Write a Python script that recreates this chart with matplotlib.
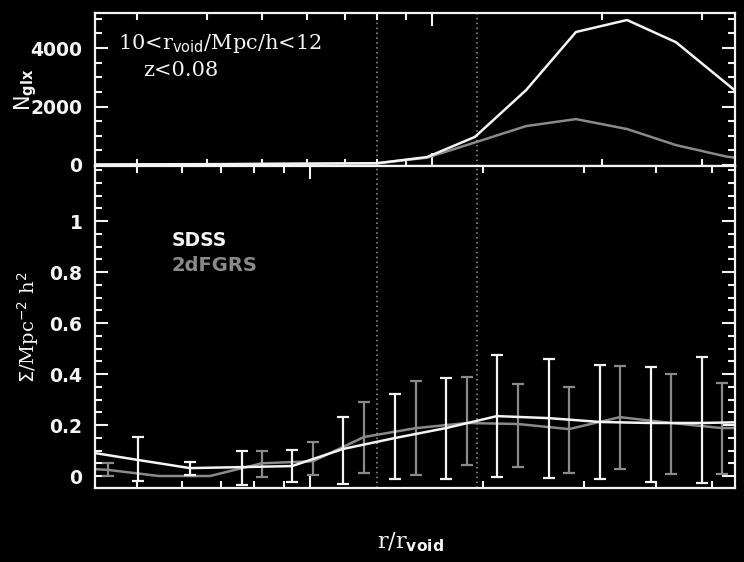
import numpy as np
import matplotlib
matplotlib.use("Agg")
import matplotlib.pyplot as plt
from matplotlib.ticker import MultipleLocator, FixedLocator, FuncFormatter, LogLocator, NullFormatter

# ---------------- data ----------------
# top panel: galaxy counts vs r (Mpc/h)
r_top = [2.34, 2.87, 3.52, 4.32, 5.30, 6.49, 7.99, 9.80, 11.91, 14.67, 17.98, 22.14, 27.03, 33.14, 40.6]
n_sdss = [15, 20, 25, 30, 40, 50, 60, 270, 960, 2560, 4550, 4960, 4200, 2800, 1400]
n_2df = [10, 15, 20, 25, 35, 45, 55, 250, 770, 1330, 1570, 1230, 680, 290, 60]

# bottom panel: surface density vs r/r_void
x_sdss = [0.4095, 0.5022, 0.6183, 0.7615, 0.9304, 1.141, 1.405, 1.724, 2.114, 2.604, 3.194, 3.918, 4.806, 5.893]
s_sdss = [0.095, 0.063, 0.031, 0.035, 0.039, 0.106, 0.149, 0.188, 0.235, 0.227, 0.212, 0.208, 0.208, 0.212]
s_sdss_hi = [0.25, 0.153, 0.055, 0.098, 0.102, 0.230, 0.320, 0.385, 0.475, 0.460, 0.435, 0.427, 0.465, 0.45]
s_sdss_lo = [-0.05, -0.020, 0.004, -0.035, -0.024, -0.030, -0.012, -0.012, -0.004, -0.008, -0.012, -0.024, -0.027, -0.03]

x_2df = [0.3631, 0.4453, 0.5462, 0.6700, 0.8250, 1.012, 1.241, 1.529, 1.875, 2.300, 2.821, 3.460, 4.245, 5.206, 6.386]
s_2df = [0.035, 0.024, 0.0, 0.0, 0.050, 0.058, 0.153, 0.188, 0.208, 0.204, 0.184, 0.231, 0.208, 0.188, 0.19]
s_2df_hi = [0.06, 0.050, np.nan, np.nan, 0.098, 0.135, 0.290, 0.373, 0.388, 0.360, 0.349, 0.431, 0.400, 0.365, 0.37]
s_2df_lo = [0.01, 0.000, np.nan, np.nan, -0.004, 0.004, 0.012, 0.004, 0.043, 0.035, 0.012, 0.027, 0.008, 0.008, 0.01]

void_marks_top = [7.99, 12.01]
void_marks_bot = [1.307, 1.951]

top_yticks = [0, 2000, 4000]
bot_yticks = [0, 0.2, 0.4, 0.6, 0.8, 1.0]

# ---------------- style ----------------
WHITE = "#f4f4f4"
GRAY = "#8a8a8a"
DOT = "#9a9a9a"
plt.rcParams["font.family"] = ["DejaVu Sans"]

fig = plt.figure(figsize=(7.44, 5.62), dpi=100, facecolor="black")
L, W = 95 / 744, 640 / 744
ax1 = fig.add_axes([L, 1 - 166 / 562, W, 153 / 562], facecolor="black")
ax2 = fig.add_axes([L, 1 - 488 / 562, W, 322 / 562], facecolor="black")


def style(ax):
    for s in ax.spines.values():
        s.set_color(WHITE)
        s.set_linewidth(1.6)
    ax.tick_params(which="both", direction="in", colors=WHITE, top=True, right=True,
                   labelsize=13.5, pad=9)
    ax.tick_params(which="major", length=9.5, width=1.5)
    ax.tick_params(which="minor", length=5, width=1.5)
    ax.tick_params(axis="x", labelbottom=False)
    for lab in ax.get_yticklabels():
        lab.set_fontweight("bold")


# ---- top panel ----
ax1.set_xscale("log")
ax1.plot(r_top, n_sdss, color=WHITE, lw=1.8, zorder=3)
ax1.plot(r_top, n_2df, color=GRAY, lw=1.8, zorder=2)
for v in void_marks_top:
    ax1.axvline(v, color=DOT, lw=1.1, ls=(0, (1, 2.2)), zorder=1)
ax1.set_xlim(2.532, 34.38)
ax1.set_ylim(-35, 5200)
ax1.yaxis.set_major_locator(FixedLocator(top_yticks))
ax1.yaxis.set_minor_locator(MultipleLocator(500))
ax1.xaxis.set_major_locator(LogLocator(base=10, numticks=10))
ax1.xaxis.set_minor_locator(LogLocator(base=10, subs=np.arange(2, 10), numticks=20))
ax1.xaxis.set_minor_formatter(NullFormatter())
ax1.yaxis.set_major_formatter(FuncFormatter(lambda v, p: f"{v:g}"))
style(ax1)
ax1.set_ylabel(r"N$_{\mathbf{glx}}$", color=WHITE, fontsize=15, labelpad=-6)
ax1.text(0.036, 0.80, r"10<r$_{\mathsf{void}}$/Mpc/h<12", color=WHITE, fontsize=15,
         family="DejaVu Serif", va="center", ha="left", transform=ax1.transAxes)
ax1.text(0.075, 0.625, "z<0.08", color=WHITE, fontsize=15, family="DejaVu Serif",
         va="center", ha="left", transform=ax1.transAxes)

# ---- bottom panel ----
ax2.set_xscale("log")
ss = np.array(s_sdss)
s2 = np.array(s_2df)
err_sdss = [ss - np.array(s_sdss_lo), np.array(s_sdss_hi) - ss]
err_2df = [s2 - np.array(s_2df_lo), np.array(s_2df_hi) - s2]
ax2.errorbar(x_2df, s_2df, yerr=err_2df, color=GRAY, lw=1.8, elinewidth=1.6,
             capsize=4.5, capthick=1.6, zorder=2)
ax2.errorbar(x_sdss, s_sdss, yerr=err_sdss, color=WHITE, lw=1.8, elinewidth=1.6,
             capsize=4.5, capthick=1.6, zorder=3)
for v in void_marks_bot:
    ax2.axvline(v, color=DOT, lw=1.1, ls=(0, (1, 2.2)), zorder=1)
ax2.set_xlim(0.4227, 5.485)
ax2.set_ylim(-0.047, 1.216)
ax2.yaxis.set_major_locator(FixedLocator(bot_yticks))
ax2.yaxis.set_minor_locator(MultipleLocator(0.05))
ax2.xaxis.set_major_locator(LogLocator(base=10, numticks=10))
ax2.xaxis.set_minor_locator(LogLocator(base=10, subs=np.arange(2, 10), numticks=20))
ax2.xaxis.set_minor_formatter(NullFormatter())
ax2.yaxis.set_major_formatter(FuncFormatter(lambda v, p: f"{v:g}" if abs(v) > 1e-9 else "0"))
style(ax2)
ax2.set_ylabel(r"$\Sigma$/Mpc$^{-2}$ h$^{2}$", color=WHITE, fontsize=14,
               family="DejaVu Serif", labelpad=6)
fig.text(0.552, 1 - 542 / 562, r"r/r$_{\mathbf{void}}$", color=WHITE, fontsize=16,
         family="DejaVu Serif", ha="center", va="center")
ax2.text(0.575, 0.925, "SDSS", color=WHITE, fontsize=13.5, weight="bold",
         va="center", ha="left")
ax2.text(0.575, 0.827, "2dFGRS", color=GRAY, fontsize=14, weight="bold",
         va="center", ha="left")

fig.savefig("out.png", dpi=100, facecolor="black")
